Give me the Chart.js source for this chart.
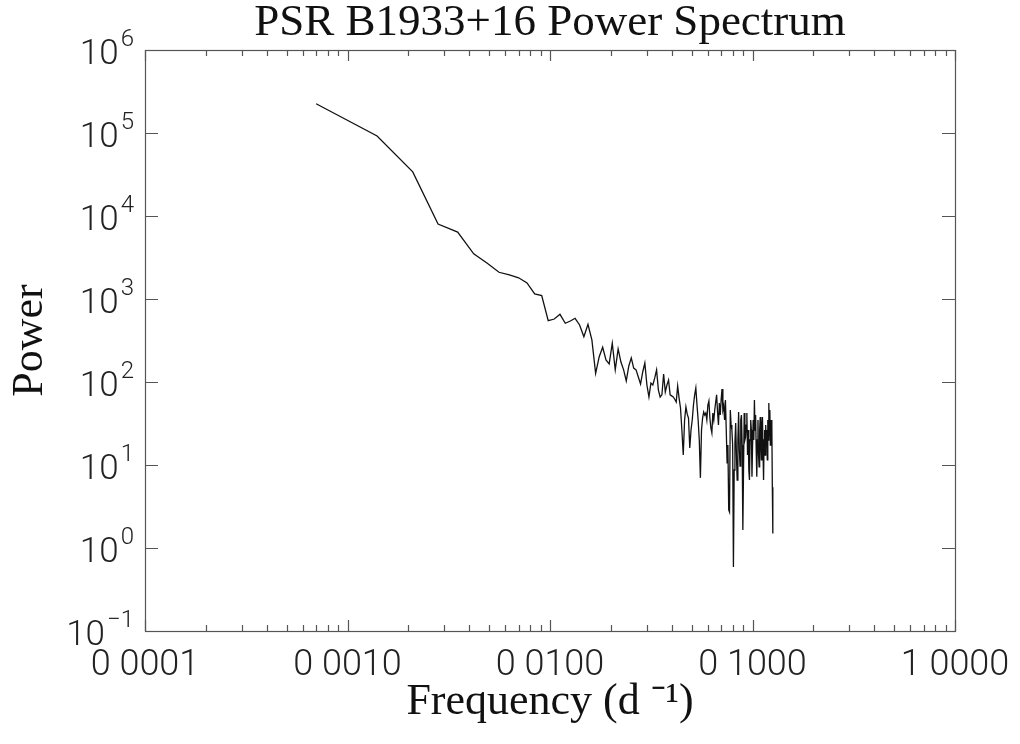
<!DOCTYPE html>
<html>
<head>
<meta charset="utf-8">
<script src="https://cdn.jsdelivr.net/npm/chart.js@4.4.1/dist/chart.umd.min.js"></script>
<style>
  html, body { margin: 0; padding: 0; background: #ffffff; }
  #wrap { width: 1020px; height: 744px; }
</style>
</head>
<body>
<div id="wrap"><canvas id="c" width="1020" height="744"></canvas></div>
<script>
// Frequency resolution of the spectrum (d^-1); frequencies are k * freqStep
const freqStep = 0.0007;

// Power values (one per Fourier frequency, k = 1..180)
const power = [
  225000, 92000, 34000, 8000, 6400, 3500, 2700, 2100, 1950, 1800,
  1560, 1150, 1100, 548, 574, 654, 510, 543, 586, 486,
  351, 496, 321, 127, 202, 262, 184, 165, 293, 140,
  250, 174, 140, 103, 156, 195, 147, 140, 115, 94.6,
  132, 169, 92, 66, 97, 92, 112, 140, 80, 66,
  70, 125, 75.8, 92, 105.7, 70, 68, 66, 62, 57.4,
  89.5, 64, 48.6, 26.4, 13.2, 34.8, 50, 41, 36.8, 16,
  26.4, 34.8, 52.8, 70, 84.7, 52.8, 34.8, 20, 7.0, 26.4,
  36.8, 43.5, 40, 42.3, 34.8, 52.8, 59, 36.8, 27.9, 24.3,
  42.3, 34.8, 46, 57.4, 70, 43.5, 30.3, 55.8, 40, 60.7,
  82.3, 46, 51.4, 34.8, 60.7, 26.4, 10.6, 17.4, 2.87, 2.71,
  46, 30.3, 26.4, 17.4, 0.59, 8.7, 18.9, 32, 13.2, 6.6,
  20, 43.5, 15.2, 9.7, 34.8, 40, 17.4, 1.65, 8.7, 42.3,
  20, 21.7, 30.3, 42.3, 13.2, 26.4, 8.7, 6.6, 20, 34.8,
  26.4, 7.2, 17.4, 34.8, 20, 60.7, 26.4, 40, 15.2, 7.2,
  20, 34.8, 13.2, 9.5, 26.4, 37.9, 17.4, 11.5, 30.3, 37.9,
  15.2, 6.6, 20, 26.4, 13.2, 30.3, 17.4, 26.4, 11.5, 34.8,
  20, 55.8, 23, 46, 17.4, 24.3, 34.8, 30.3, 5.4, 1.5
];

// Axis ticks
const xTickValues = [0.0001, 0.001, 0.01, 0.1, 1];
const xTickLabels = ['0 0001', '0 0010', '0 0100', '0 1000', '1 0000'];
const yTickValues = [0.1, 1, 10, 100, 1000, 10000, 100000, 1000000];
const yTickBase = '10';
const yTickExponents = ['\u22121', '0', '1', '2', '3', '4', '5', '6'];

const titleText = 'PSR B1933+16 Power Spectrum';
const xTitle = 'Frequency (d \u207B\u00B9)';
const yTitle = 'Power';

const frequencies = power.map((_, i) => (i + 1) * freqStep);
const points = power.map((p, i) => ({ x: frequencies[i], y: p }));

const ink = '#111111';
const labelInk = '#222222';
const frameColor = '#555555';
const sansFont = 'Roboto, "Liberation Sans", sans-serif';
const serifFont = '"Liberation Serif", "Times New Roman", serif';

// Box frame with inward tick marks, placed through the chart's scales
const framePlugin = {
  id: 'frame',
  afterDraw(chart) {
    const { ctx, chartArea: a, scales: { x, y } } = chart;
    ctx.save();
    ctx.strokeStyle = frameColor;
    ctx.lineWidth = 1.2;
    ctx.strokeRect(Math.round(a.left) + 0.5, Math.round(a.top) + 0.5,
                   Math.round(a.right - a.left), Math.round(a.bottom - a.top));
    ctx.beginPath();
    for (let d = -4; d <= 0; d++) {
      for (let m = 1; m <= 9; m++) {
        const v = m * Math.pow(10, d);
        if (v > 1.0000001) break;
        const px = Math.round(x.getPixelForValue(v)) + 0.5;
        const len = m === 1 ? 11 : 6;
        ctx.moveTo(px, a.bottom); ctx.lineTo(px, a.bottom - len);
        ctx.moveTo(px, a.top); ctx.lineTo(px, a.top + len);
      }
    }
    yTickValues.forEach(v => {
      const py = Math.round(y.getPixelForValue(v)) + 0.5;
      ctx.moveTo(a.left, py); ctx.lineTo(a.left + 13, py);
      ctx.moveTo(a.right, py); ctx.lineTo(a.right - 13, py);
    });
    ctx.stroke();

    // y tick labels: base "10" with raised exponent, right-aligned
    const rightEdge = a.left - 11;
    ctx.fillStyle = labelInk;
    ctx.textBaseline = 'alphabetic';
    ctx.textAlign = 'left';
    yTickValues.forEach((v, i) => {
      const py = y.getPixelForValue(v);
      ctx.font = '300 35px ' + sansFont;
      const wBase = ctx.measureText(yTickBase).width;
      ctx.font = '300 24px ' + sansFont;
      const wExp = ctx.measureText(yTickExponents[i]).width;
      const x0 = rightEdge - wExp - 2 - wBase;
      ctx.font = '300 35px ' + sansFont;
      ctx.fillText(yTickBase, x0, py + 14);
      ctx.font = '300 24px ' + sansFont;
      ctx.fillText(yTickExponents[i], x0 + wBase + 2, py - 4);
    });
    ctx.restore();
  }
};

new Chart(document.getElementById('c'), {
  type: 'line',
  data: {
    datasets: [{
      data: points,
      borderColor: ink,
      borderWidth: 1.3,
      pointRadius: 0,
      tension: 0,
      fill: false
    }]
  },
  options: {
    responsive: false,
    animation: false,
    layout: { padding: { left: 0, right: 65, top: 0, bottom: 0 } },
    plugins: {
      legend: { display: false },
      tooltip: { enabled: false },
      title: {
        display: true,
        fullSize: false,
        text: titleText,
        color: ink,
        font: { family: serifFont, size: 45, weight: 'normal', lineHeight: 1 },
        padding: { top: 1, bottom: 4 }
      }
    },
    scales: {
      x: {
        type: 'logarithmic',
        position: 'bottom',
        min: 0.0001,
        max: 1,
        afterBuildTicks: s => { s.ticks = xTickValues.map(v => ({ value: v })); },
        afterFit: s => { s.height = 113; s.paddingLeft = 0; s.paddingRight = 0; },
        grid: { display: false, drawTicks: false },
        border: { display: false },
        ticks: {
          autoSkip: false,
          maxRotation: 0,
          padding: 13,
          color: labelInk,
          font: { family: sansFont, size: 36, weight: 300 },
          callback: (v, i) => xTickLabels[i]
        },
        title: {
          display: true,
          text: xTitle,
          color: ink,
          font: { family: serifFont, size: 44, weight: 'normal', lineHeight: 1 },
          padding: { top: 0, bottom: 20 }
        }
      },
      y: {
        type: 'logarithmic',
        position: 'left',
        min: 0.1,
        max: 1000000,
        afterBuildTicks: s => { s.ticks = yTickValues.map(v => ({ value: v })); },
        afterFit: s => { s.width = 145; s.paddingTop = 0; s.paddingBottom = 0; },
        grid: { display: false, drawTicks: false },
        border: { display: false },
        ticks: {
          display: false,
          autoSkip: false
        },
        title: {
          display: true,
          text: yTitle,
          color: ink,
          font: { family: serifFont, size: 44, weight: 'normal', lineHeight: 1 },
          padding: { top: 8, bottom: 0 }
        }
      }
    }
  },
  plugins: [framePlugin]
});
</script>
</body>
</html>
